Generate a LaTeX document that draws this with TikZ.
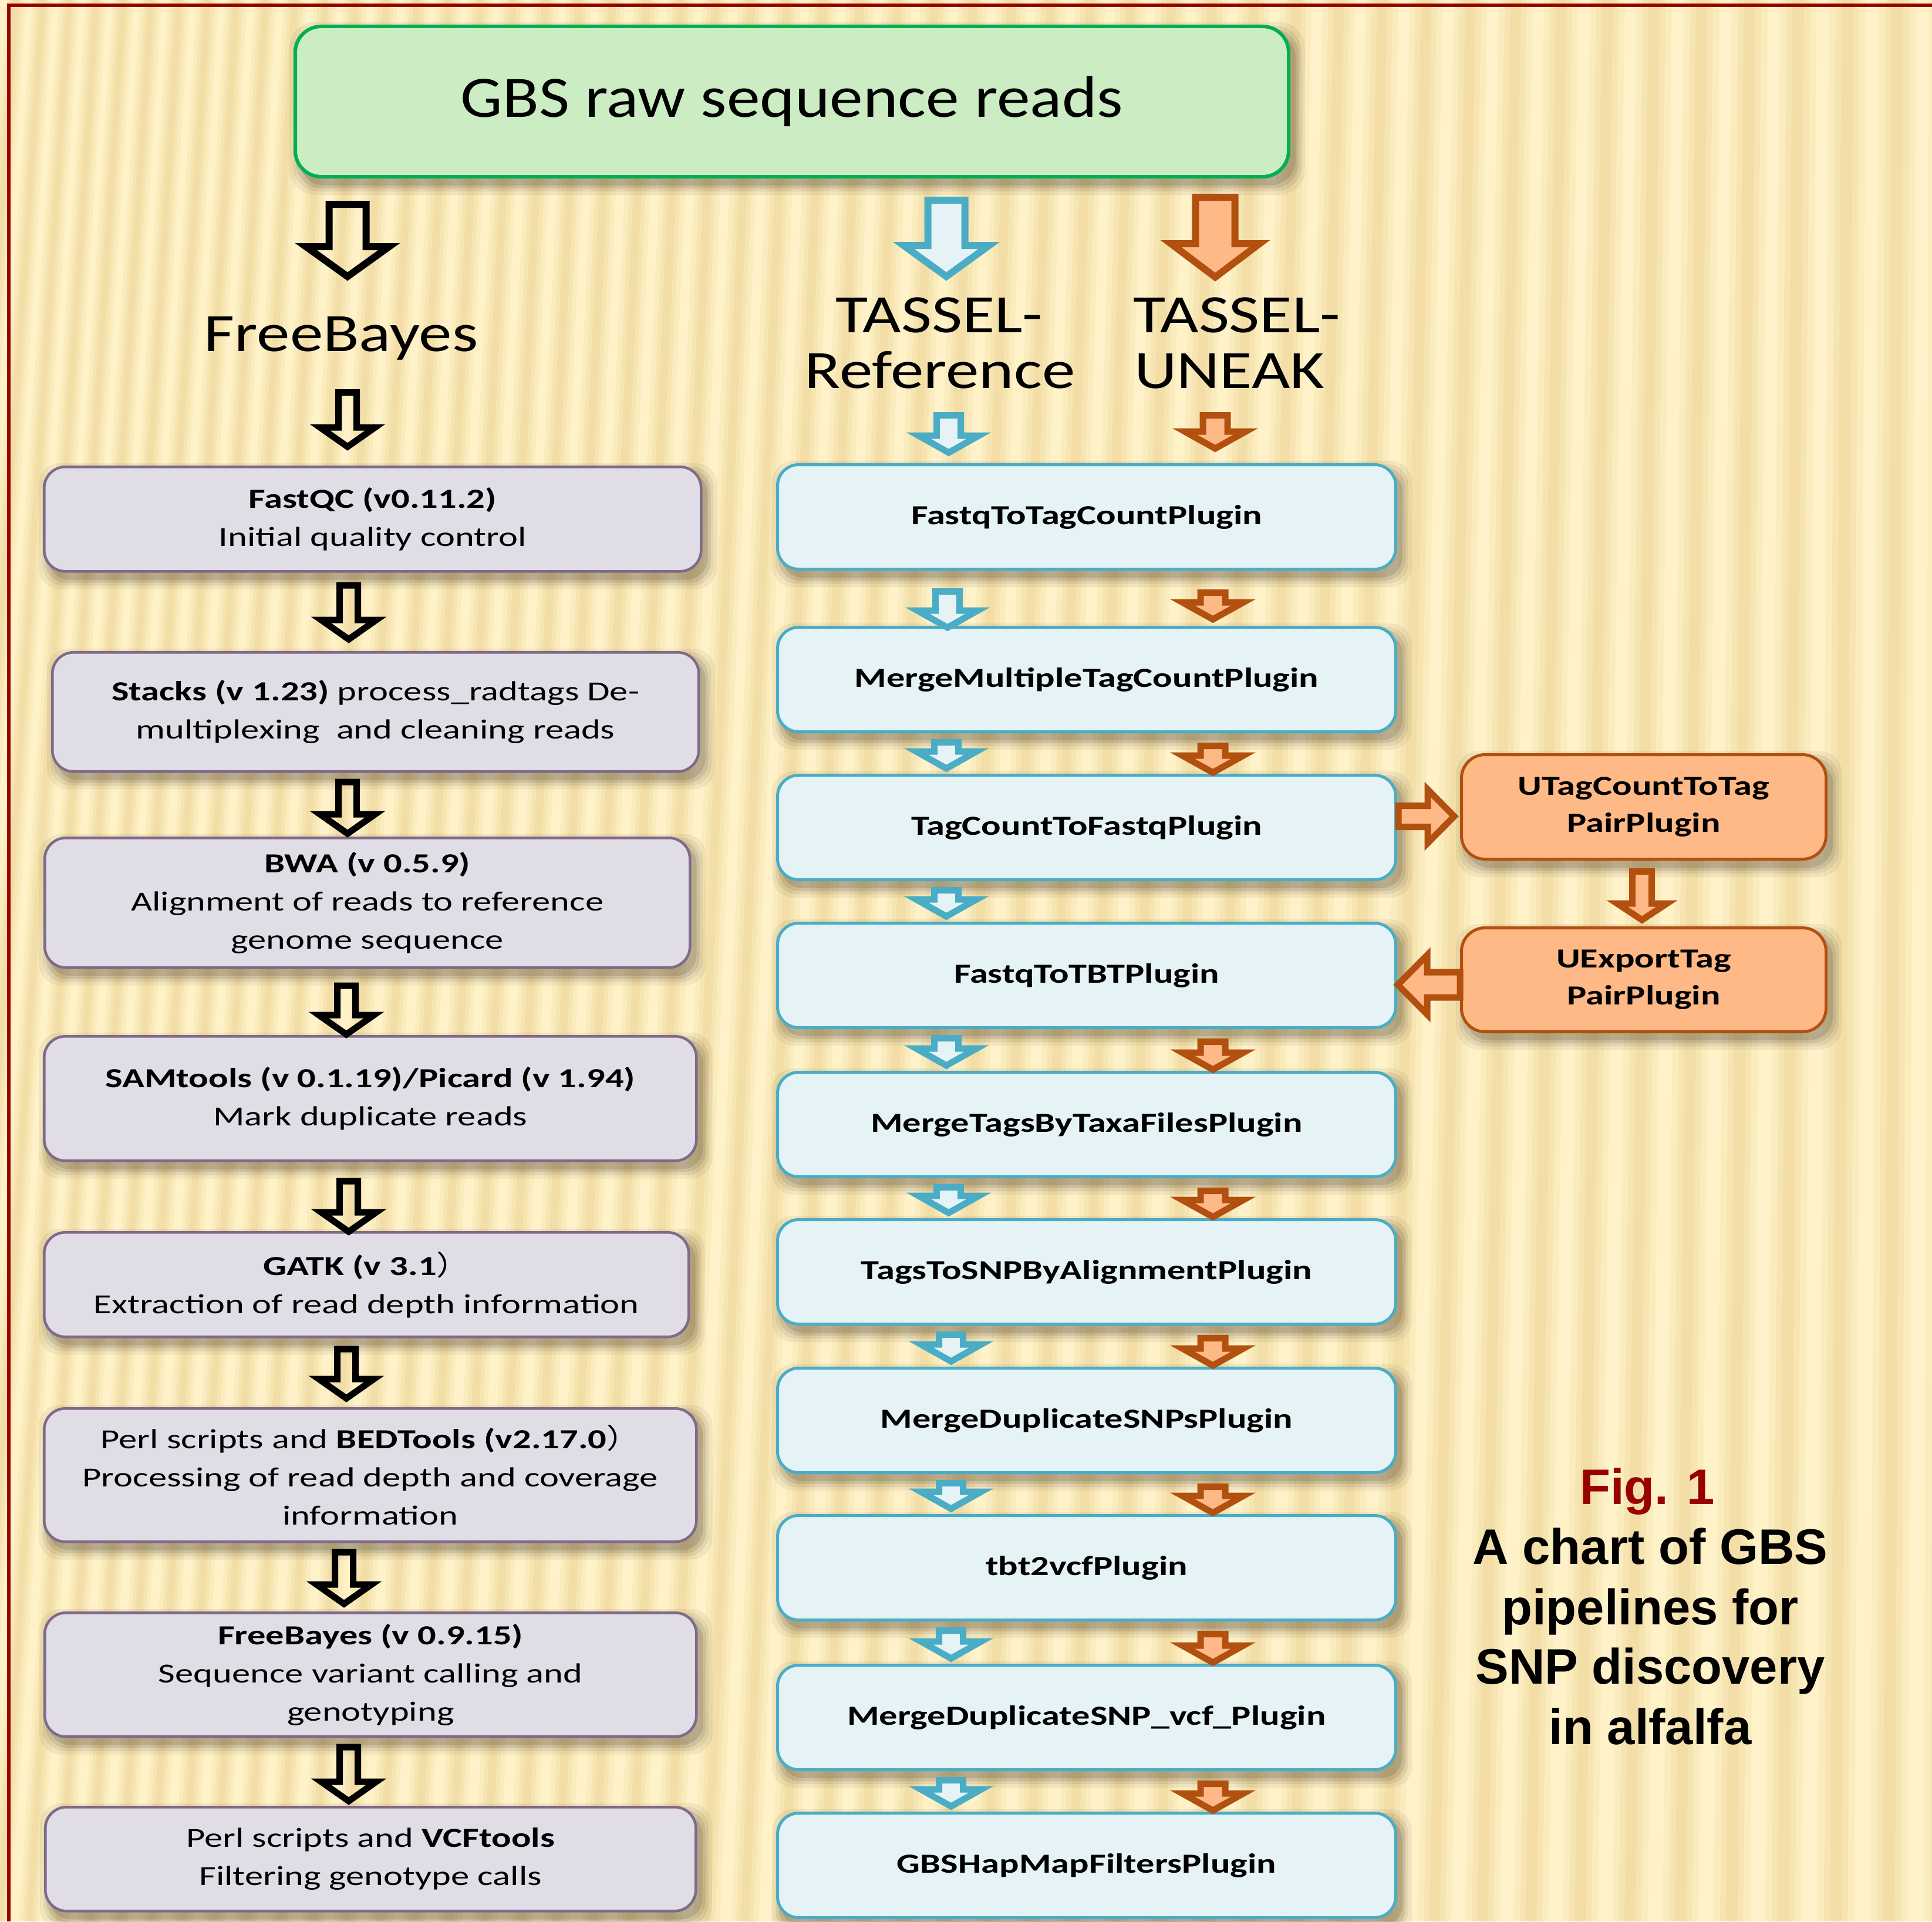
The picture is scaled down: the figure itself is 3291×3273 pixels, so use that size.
\documentclass[tikz,border=0pt]{standalone}
\usepackage{fontspec}
\setmainfont{Carlito}
\newfontfamily\boxfont{Carlito}[FakeStretch=1.33]
\newfontfamily\titlefont{Carlito}[FakeStretch=1.135]
\newfontfamily\headfont{Carlito}[FakeStretch=1.23]
\newfontfamily\figfont{Liberation Sans}
\newfontfamily\cjkfont{Noto Sans CJK SC}[FakeStretch=1.2]
\usetikzlibrary{calc}
\pgfdeclarelayer{bgl}\pgfdeclarelayer{shl}
\pgfsetlayers{bgl,shl,main}
\definecolor{cream}{HTML}{FFF2C9}
\definecolor{tanc}{HTML}{E8CD88}
\definecolor{framec}{HTML}{990000}
\definecolor{gfill}{HTML}{CCEDC4}
\definecolor{gline}{HTML}{00B050}
\definecolor{pfill}{HTML}{E1DDE6}
\definecolor{pline}{HTML}{7F6A8A}
\definecolor{bfill}{HTML}{E6F3F6}
\definecolor{bline}{HTML}{4BACC6}
\definecolor{ofill}{HTML}{FFB987}
\definecolor{oline}{HTML}{B2500F}
\tikzset{
 box/.style={rounded corners=36pt, inner sep=0pt, anchor=north west, align=center},
 topbox/.style={box, draw=gline, fill=gfill, line width=6pt, rounded corners=44pt, font=\titlefont\fontsize{100}{118}\selectfont},
 lbox/.style={box, draw=pline, fill=pfill, line width=4.5pt, font=\boxfont\fontsize{47}{65}\selectfont},
 mbox/.style={box, draw=bline, fill=bfill, line width=5pt, font=\boxfont\bfseries\fontsize{47}{65}\selectfont, minimum width=1053pt, minimum height=178pt},
 obox/.style={box, draw=oline, fill=ofill, line width=5pt, rounded corners=40pt, font=\boxfont\bfseries\fontsize{47}{63}\selectfont, minimum width=621pt, minimum height=178pt},
 head/.style={inner sep=0pt, font=\headfont\fontsize{92}{95}\selectfont},
 figtxt/.style={inner sep=0pt, anchor=base, font=\figfont\bfseries\fontsize{85}{102}\selectfont},
 blks/.style={draw=black, line width=11pt, /utils/exec={\def\sh{15.5pt}\def\hh{47pt}\def\hl{33pt}}},
 blkb/.style={draw=black, line width=12pt, /utils/exec={\def\sh{31.5pt}\def\hh{71pt}\def\hl{51pt}}},
 blub/.style={draw=bline, fill=bfill, line width=12pt, /utils/exec={\def\sh{31.5pt}\def\hh{73pt}\def\hl{53pt}}},
 orab/.style={draw=oline, fill=ofill, line width=12pt, /utils/exec={\def\sh{33.5pt}\def\hh{75.5pt}\def\hl{57pt}}},
 blus/.style={draw=bline, fill=bfill, line width=11pt, /utils/exec={\def\sh{20.5pt}\def\hh{51.5pt}\def\hl{29pt}}},
 oras/.style={draw=oline, fill=ofill, line width=11pt, /utils/exec={\def\sh{21pt}\def\hh{52pt}\def\hl{29pt}}},
 orar/.style={draw=oline, fill=ofill, line width=11pt, /utils/exec={\def\sh{18pt}\def\hh{45.5pt}\def\hl{45pt}}},
 oral/.style={draw=oline, fill=ofill, line width=11pt, /utils/exec={\def\sh{21.5pt}\def\hh{50.5pt}\def\hl{50pt}}},
 orad/.style={draw=oline, fill=ofill, line width=11pt, /utils/exec={\def\sh{16.5pt}\def\hh{42.5pt}\def\hl{28pt}}},
}
% vertical block arrow: style, top point, tip point
\newcommand\varr[3]{\path[#1] let \p1=#2, \p2=#3 in
  ({\x1-\sh},\y1) -- ({\x1+\sh},\y1) -- ({\x1+\sh},{\y2+\hl}) -- ({\x1+\hh},{\y2+\hl})
  -- (\x1,\y2) -- ({\x1-\hh},{\y2+\hl}) -- ({\x1-\sh},{\y2+\hl}) -- cycle;}
% right block arrow: style, tail point, tip point (y of tail used)
\newcommand\rarr[3]{\path[#1] let \p1=#2, \p2=#3 in
  (\x1,{\y1+\sh}) -- ({\x2-\hl},{\y1+\sh}) -- ({\x2-\hl},{\y1+\hh}) -- (\x2,\y1)
  -- ({\x2-\hl},{\y1-\hh}) -- ({\x2-\hl},{\y1-\sh}) -- (\x1,{\y1-\sh}) -- cycle;}
\newcommand\larr[3]{\path[#1] let \p1=#2, \p2=#3 in
  (\x1,{\y1+\sh}) -- ({\x2+\hl},{\y1+\sh}) -- ({\x2+\hl},{\y1+\hh}) -- (\x2,\y1)
  -- ({\x2+\hl},{\y1-\hh}) -- ({\x2+\hl},{\y1-\sh}) -- (\x1,{\y1-\sh}) -- cycle;}
% connect: style, x, upper anchor, offset, lower anchor, offset
\newcommand\vconn[6]{\varr{#1}{($(#3 -| #2,0)+(0,#4)$)}{($(#5 -| #2,0)+(0,#6)$)}}
\newcommand\shad[2]{\foreach \ee/\oo in {16/0.06,10/0.08,5/0.1,0/0.13}{\fill[black!80!brown,opacity=\oo,rounded corners=#2] ($(#1.north west)+(9-\ee,12-\ee)$) rectangle ($(#1.south east)+(9+\ee,12+\ee)$);}}
\begin{document}
\begin{tikzpicture}[x=1pt,y=-1pt]
\useasboundingbox (0,0) rectangle (3291,3273);
\begin{pgfonlayer}{bgl}
\fill[cream] (0,0) rectangle (3291,3273);
\foreach \n in {-4,...,50}{
  \pgfmathsetmacro\xb{3918*(exp(0.01276*\n)-1)}
  \pgfmathsetmacro\pp{50+0.01276*\xb}
  \pgfmathsetmacro\xt{\xb+200*(1-\xb/3291)+10}
  \draw[tanc, line width=0.7*\pp, opacity=0.16] (\xb,3273) -- (\xt,0);
  \draw[tanc, line width=0.45*\pp, opacity=0.22] (\xb,3273) -- (\xt,0);
  \draw[tanc, line width=0.22*\pp, opacity=0.28] (\xb,3273) -- (\xt,0);
}
\draw[framec, line width=6pt] (12,9.5) -- (3291,9.5);
\draw[framec, line width=6pt] (15,7) -- (15,3273);
\end{pgfonlayer}

% top box
\node[topbox, minimum width=1692pt, minimum height=256pt] (top) at (500,42) {GBS raw sequence reads};

% labels
\node[head, anchor=base] (fb) at (581,598) {FreeBayes};
\node[head, anchor=base] (tr1) at (1600,566) {TASSEL-};
\node[head, anchor=base] (tr2) at (1601,661) {Reference};
\node[head, anchor=base west] (tu1) at (1930,566) {TASSEL-};
\node[head, anchor=base west] (tu2) at (1932,661) {UNEAK};

% left column
\node[lbox, minimum width=1119pt, minimum height=178pt] (l1) at (73,793) {\textbf{FastQC (v0.11.2)}\\Initial quality control};
\node[lbox, minimum width=1101pt, minimum height=203pt] (l2) at (87,1109) {\textbf{Stacks (v 1.23)} process\_radtags De-\\multiplexing\ \ and cleaning reads};
\node[lbox, minimum width=1099pt, minimum height=221pt] (l3) at (74,1425) {\textbf{BWA (v 0.5.9)}\\Alignment of reads to reference\\genome sequence};
\node[lbox, minimum width=1111pt, minimum height=212pt] (l4) at (73,1763) {\textbf{SAMtools (v 0.1.19)/Picard (v 1.94)}\\Mark duplicate reads};
\node[lbox, minimum width=1098pt, minimum height=178pt] (l5) at (73,2097) {\textbf{GATK (v 3.1}{\cjkfont ）}\\Extraction of read depth information};
\node[lbox, minimum width=1111pt, minimum height=227pt] (l6) at (73,2397) {Perl scripts and \textbf{BEDTools (v2.17.0}{\cjkfont ）}\\Processing of read depth and coverage\\information};
\node[lbox, minimum width=1110pt, minimum height=211pt] (l7) at (74,2745) {\textbf{FreeBayes (v 0.9.15)}\\Sequence variant calling and\\genotyping};
\node[lbox, minimum width=1108pt, minimum height=177pt] (l8) at (75,3076) {Perl scripts and \textbf{VCFtools}\\Filtering genotype calls};

% middle column
\node[mbox] (m1) at (1322,789) {FastqToTagCountPlugin};
\node[mbox] (m2) at (1322,1066) {MergeMultipleTagCountPlugin};
\node[mbox] (m3) at (1322,1318) {TagCountToFastqPlugin};
\node[mbox] (m4) at (1322,1570) {FastqToTBTPlugin};
\node[mbox] (m5) at (1322,1824) {MergeTagsByTaxaFilesPlugin};
\node[mbox] (m6) at (1322,2075) {TagsToSNPByAlignmentPlugin};
\node[mbox] (m7) at (1322,2328) {MergeDuplicateSNPsPlugin};
\node[mbox] (m8) at (1322,2579) {tbt2vcfPlugin};
\node[mbox] (m9) at (1322,2834) {MergeDuplicateSNP\_vcf\_Plugin};
\node[mbox] (m10) at (1322,3086) {GBSHapMapFiltersPlugin};

% UNEAK side boxes
\node[obox] (u1) at (2487,1283) {UTagCountToTag\\PairPlugin};
\node[obox, minimum height=177pt] (u2) at (2487,1578) {UExportTag\\PairPlugin};

% caption
\node[figtxt, text=framec] (fig) at (2806,2562) {Fig. 1};
\node[figtxt] (c1) at (2811,2664) {A chart of GBS};
\node[figtxt] (c2) at (2811,2767) {pipelines for};
\node[figtxt] (c3) at (2811,2868) {SNP discovery};
\node[figtxt] (c4) at (2811,2971) {in alfalfa};

% shadows
\begin{pgfonlayer}{shl}
\shad{top}{44pt}
\foreach \b in {l1,l2,l3,l4,l5,l6,l7,l8,m1,m2,m3,m4,m5,m6,m7,m8,m9,m10}{\shad{\b}{36pt}}
\shad{u1}{40pt}\shad{u2}{40pt}
\end{pgfonlayer}

% black arrows (FreeBayes pipeline)
\vconn{blkb}{592}{top.south}{44}{fb.base}{-127}
\vconn{blks}{592}{fb.base}{70.5}{l1.north}{-32}
\vconn{blks}{594}{l1.south}{21.5}{l2.north}{-20}
\vconn{blks}{592}{l2.south}{15.5}{l3.north}{-5}
\vconn{blks}{590}{l3.south}{28.5}{l4.north}{-1}
\vconn{blks}{594}{l4.south}{32.5}{l5.north}{1}
\vconn{blks}{590}{l5.south}{18.5}{l6.north}{-15}
\vconn{blks}{586}{l6.south}{15.5}{l7.north}{-13}
\vconn{blks}{594}{l7.south}{15.5}{l8.north}{-8}

% TASSEL-Reference arrows
\vconn{blub}{1612}{top.south}{37}{tr1.base}{-95}
\vconn{blus}{1616}{tr2.base}{46.5}{m1.north}{-18}
\vconn{blus}{1614}{m1.south}{35.5}{m2.north}{3}
\foreach \a/\b/\xx in {m2/m3/1612,m3/m4/1612,m4/m5/1612,m5/m6/1616,m6/m7/1620,m7/m8/1620,m8/m9/1620,m9/m10/1620}{
  \vconn{blus}{\xx}{\a.south}{15.5}{\b.north}{-9}}

% TASSEL-UNEAK arrows
\vconn{orab}{2070}{top.south}{32}{tu1.base}{-94}
\vconn{oras}{2070}{tu2.base}{46.5}{m1.north}{-25}
\vconn{oras}{2066}{m1.south}{37.5}{m2.north}{-11}
\foreach \a/\b in {m2/m3,m4/m5,m5/m6,m6/m7,m7/m8,m8/m9,m9/m10}{
  \vconn{oras}{2066}{\a.south}{21.5}{\b.north}{-2}}
\rarr{orar}{($(m3.east)+(2,-19)$)}{($(u1.west)+(-10,0)$)}
\vconn{orad}{2797}{u1.south}{18.5}{u2.north}{-11}
\larr{oral}{($(u2.west)+(0,8.5)$)}{($(m4.east)+(1,0)$)}
\end{tikzpicture}
\end{document}
